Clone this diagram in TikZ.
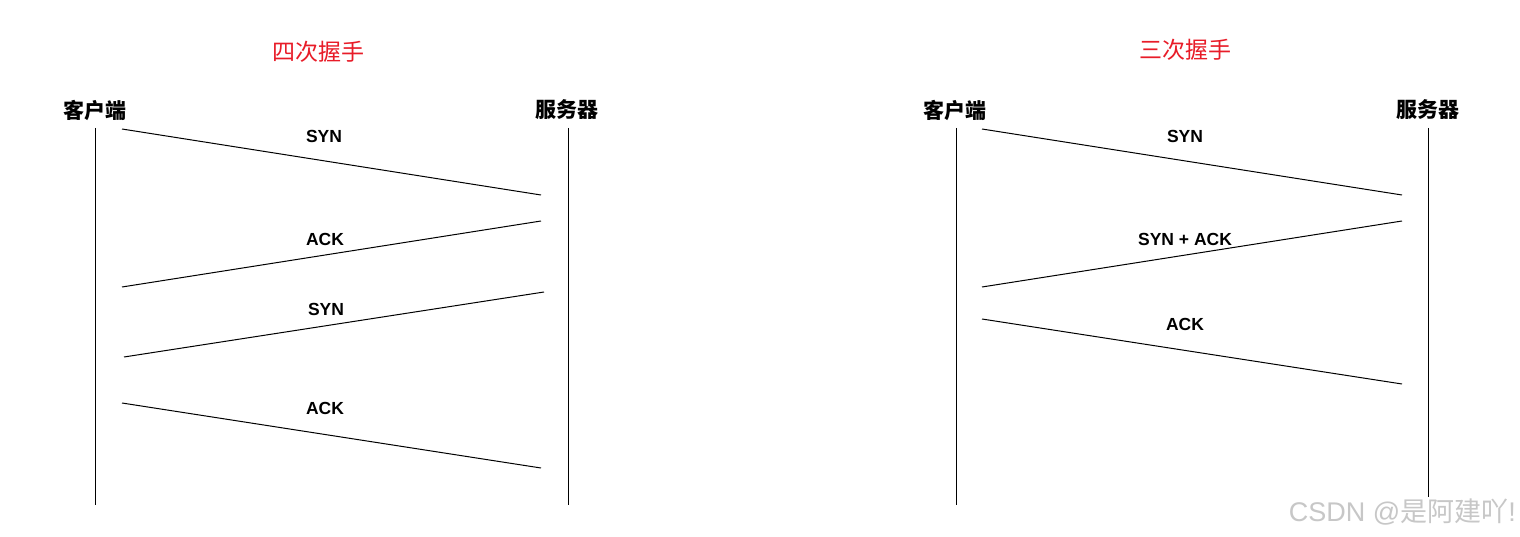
\documentclass[tikz,border=0pt]{standalone}
\usepackage{fontspec}
\setmainfont{Liberation Sans}
\newfontfamily\cjk{Noto Sans CJK SC}
\definecolor{titlered}{RGB}{232,28,40}
\begin{document}
\begin{tikzpicture}[x=1pt,y=-1pt,
  msg/.style={line width=1pt, black},
  life/.style={line width=1pt, black},
  lbl/.style={font=\fontsize{17.5}{17.5}\selectfont\bfseries, inner sep=0pt},
  actor/.style={font=\fontsize{21}{21}\selectfont\cjk\bfseries, inner sep=0pt},
  ttl/.style={font=\fontsize{23}{23}\selectfont\cjk, text=titlered, inner sep=0pt}]
\useasboundingbox (0,0) rectangle (1520,537);
\fill[white] (0,0) rectangle (1520,537);

% ---------- left: four-way ----------
\node[ttl] (t1) at (318,52) {四次握手};
\node[actor] (a1) at (95,110) {客户端};
\node[actor] (b1) at (567,110) {服务器};
\coordinate (a1t) at (95,128); \coordinate (a1b) at (95,505);
\coordinate (b1t) at (568,128); \coordinate (b1b) at (568,505);
\draw[life] (a1t) -- (a1b);
\draw[life] (b1t) -- (b1b);

\coordinate (m1s) at (122,129); \coordinate (m1e) at (541,195);
\coordinate (m2s) at (541,221); \coordinate (m2e) at (122,287);
\coordinate (m3s) at (544,292); \coordinate (m3e) at (124,357);
\coordinate (m4s) at (122,403); \coordinate (m4e) at (541,468);
\draw[msg] (m1s) -- (m1e);
\draw[msg] (m2s) -- (m2e);
\draw[msg] (m3s) -- (m3e);
\draw[msg] (m4s) -- (m4e);
\node[lbl] (l1) at (324,136) {SYN};
\node[lbl] (l2) at (325,239) {ACK};
\node[lbl] (l3) at (326,309) {SYN};
\node[lbl] (l4) at (325,408) {ACK};

% ---------- right: three-way ----------
\node[ttl] (t2) at (1185,50) {三次握手};
\node[actor] (a2) at (955,110) {客户端};
\node[actor] (b2) at (1428,110) {服务器};
\coordinate (a2t) at (956,128); \coordinate (a2b) at (956,505);
\coordinate (b2t) at (1428,128); \coordinate (b2b) at (1428,497);
\draw[life] (a2t) -- (a2b);
\draw[life] (b2t) -- (b2b);

\coordinate (n1s) at (982,129); \coordinate (n1e) at (1402,195);
\coordinate (n2s) at (1402,221); \coordinate (n2e) at (982,287);
\coordinate (n3s) at (982,319); \coordinate (n3e) at (1402,384);
\draw[msg] (n1s) -- (n1e);
\draw[msg] (n2s) -- (n2e);
\draw[msg] (n3s) -- (n3e);
\node[lbl] (k1) at (1185,136) {SYN};
\node[lbl] (k2) at (1185,239) {SYN + ACK};
\node[lbl] (k3) at (1185,324) {ACK};

% watermark
\node[font=\fontsize{27}{27}\selectfont, text=black!22, inner sep=0pt, anchor=east] (wm) at (1516,512) {CSDN @{\cjk 是阿建吖}!};
\end{tikzpicture}
\end{document}
